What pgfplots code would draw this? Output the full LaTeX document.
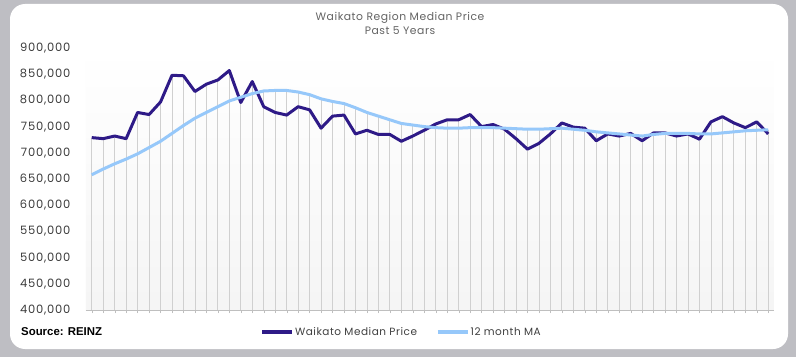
\documentclass[border=0pt]{standalone}
\usepackage{pgfplots}
\pgfplotsset{compat=1.18}
\usepackage{pgfplotstable}
\usepackage{fontspec}
\setmainfont{Poppins}
\newfontfamily\widefont{Poppins}[LetterSpace=5]
\newfontfamily\tickfont{Poppins}[LetterSpace=7]
\newfontfamily\srcfont{Liberation Sans}
\definecolor{medc}{RGB}{46,26,135}
\definecolor{mac}{RGB}{150,200,250}
\definecolor{bggray}{RGB}{190,190,195}
\definecolor{dropc}{RGB}{208,208,208}
\definecolor{titlec}{RGB}{100,100,100}
\definecolor{tickc}{RGB}{60,60,60}
\pgfplotstableread{
i med ma
0 729 658
1 727 669
2 732 679
3 727 688
4 777 698
5 773 710
6 797 722
7 848 737
8 847 752
9 817 766
10 831 777
11 839 788
12 857 799
13 796 806
14 836 813
15 788 818
16 777 819
17 772 819
18 788 816
19 782 811
20 747 803
21 770 798
22 772 794
23 736 786
24 743 777
25 735 770
26 735 763
27 722 756
28 732 753
29 743 750
30 755 748
31 763 747
32 763 747
33 773 748
34 750 748
35 754 748
36 745 747
37 727 746
38 707 745
39 718 745
40 736 746
41 757 747
42 749 745
43 747 743
44 723 740
45 736 738
46 732 736
47 737 734
48 723 732
49 738 735
50 738 737
51 732 737
52 736 737
53 726 736
54 759 736
55 769 738
56 757 740
57 748 742
58 759 743
59 736 744
}\data
\begin{document}
\begin{tikzpicture}[x=1pt,y=1pt]
\fill[bggray] (0,0) rectangle (796,357);
\fill[white, rounded corners=15pt] (10,8) rectangle (788,353);
\useasboundingbox (0,0) rectangle (796,357);
\node[text=titlec, font=\widefont\fontsize{10.8}{12}\selectfont] at (400,339) {Waikato Region Median Price};
\node[text=titlec, font=\widefont\fontsize{10.8}{12}\selectfont] at (400,326) {Past 5 Years};
\node[anchor=west, inner sep=0pt, font=\srcfont\fontsize{11.4}{13}\selectfont\bfseries] at (21,25.5) {Source: REINZ};
\begin{axis}[
  at={(86pt,47pt)}, anchor=south west,
  scale only axis, width=688pt, height=262pt,
  xmin=-0.5, xmax=59.5, ymin=400000, ymax=900000,
  axis lines*=left,
  y axis line style={draw=none},
  x axis line style={draw=gray!50},
  xtick={0,...,59}, xticklabels={},
  x tick style={draw=gray!50}, tick align=outside, major tick length=3pt,
  ytick={400000,450000,...,900000},
  y tick style={draw=none},
  scaled y ticks=false,
  /pgf/number format/fixed,
  /pgf/number format/1000 sep={,},
  /pgf/number format/assume math mode=true,
  yticklabel style={text=tickc, font=\tickfont\fontsize{11.5}{13}\selectfont, anchor=east, xshift=-9pt},
  axis background/.style={shade, top color=white, bottom color=gray!8},
  clip=true,
  legend style={at={(0.458,-0.084)}, anchor=center, draw=none, fill=none,
    legend columns=2, font=\widefont\fontsize{10.5}{12}\selectfont, text=black!75,
    /tikz/every even column/.append style={column sep=18pt},
    nodes={inner xsep=1pt}},
  legend image code/.code={\draw[#1, line width=3.6pt] (0pt,0pt) -- (30pt,0pt);},
]
\addplot[ycomb, draw=dropc, line width=0.8pt, forget plot] table[x=i, y expr=\thisrow{med}*1000]{\data};
\addplot[ycomb, draw=dropc, line width=0.8pt, forget plot] table[x=i, y expr=\thisrow{ma}*1000]{\data};
\addplot[medc, line width=3pt, line join=round] table[x=i, y expr=\thisrow{med}*1000]{\data};
\addlegendentry{Waikato Median Price}
\addplot[mac, line width=3pt, line join=round] table[x=i, y expr=\thisrow{ma}*1000]{\data};
\addlegendentry{12 month MA}
\end{axis}
\end{tikzpicture}
\end{document}
